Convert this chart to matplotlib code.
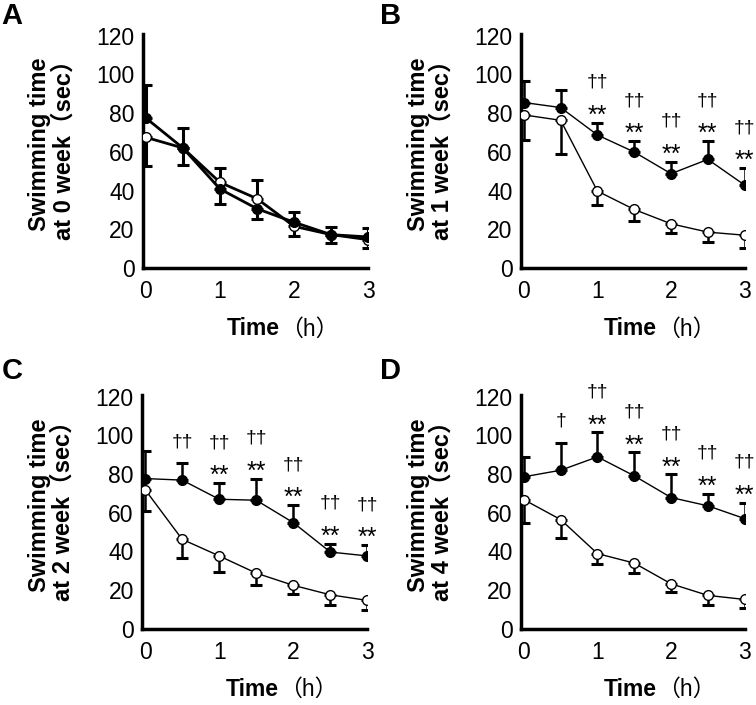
import numpy as np
import matplotlib
matplotlib.use("Agg")
import matplotlib.pyplot as plt

plt.rcParams['font.family'] = ['Liberation Sans', 'Noto Sans CJK JP', 'DejaVu Sans']

# -----------------------------
# DATA
# -----------------------------
time_h = [0, 0.5, 1, 1.5, 2, 2.5, 3]
panel_letters = ["A", "B", "C", "D"]
weeks = ["0", "1", "2", "4"]

# filled circles (mean, upper error)
filled_A = [77.5, 62.0, 40.8, 30.6, 23.6, 17.2, 16.0]
filled_err_A = [17.2, 10.3, 10.8, 14.7, 5.3, 4.1, 4.5]
filled_B = [85.5, 82.9, 68.7, 59.9, 48.7, 56.1, 42.8]
filled_err_B = [10.9, 9.1, 6.4, 5.7, 6.2, 9.5, 8.7]
filled_C = [77.7, 76.9, 67.0, 66.5, 54.9, 39.7, 37.7]
filled_err_C = [14.3, 8.6, 8.5, 11.2, 9.0, 4.3, 5.5]
filled_D = [78.6, 82.0, 88.9, 79.1, 67.9, 63.6, 57.0]
filled_err_D = [10.3, 14.2, 12.7, 12.1, 11.9, 6.3, 8.3]

# open circles (mean, lower error)
open_A = [67.5, 62.0, 44.2, 35.8, 21.5, 17.2, 14.6]
open_err_A = [15.0, 9.0, 11.2, 10.5, 4.8, 4.5, 4.3]
open_B = [79.1, 76.3, 39.7, 30.2, 22.8, 18.5, 16.9]
open_err_B = [13.0, 17.6, 7.2, 6.0, 5.0, 5.0, 6.5]
open_C = [72.0, 46.3, 37.7, 28.8, 22.5, 17.6, 14.7]
open_err_C = [11.2, 9.5, 8.3, 6.0, 4.7, 5.5, 4.7]
open_D = [66.8, 56.5, 38.9, 34.0, 23.3, 17.3, 15.2]
open_err_D = [11.9, 9.3, 5.6, 5.2, 4.0, 5.2, 4.5]

# significance marks above the filled series
daggers_A = ["", "", "", "", "", "", ""]
stars_A = ["", "", "", "", "", "", ""]
daggers_B = ["", "", "††", "††", "††", "††", "††"]
stars_B = ["", "", "**", "**", "**", "**", "**"]
daggers_C = ["", "††", "††", "††", "††", "††", "††"]
stars_C = ["", "", "**", "**", "**", "**", "**"]
daggers_D = ["", "†", "††", "††", "††", "††", "††"]
stars_D = ["", "", "**", "**", "**", "**", "**"]

panels = [
    (filled_A, filled_err_A, open_A, open_err_A, daggers_A, stars_A),
    (filled_B, filled_err_B, open_B, open_err_B, daggers_B, stars_B),
    (filled_C, filled_err_C, open_C, open_err_C, daggers_C, stars_C),
    (filled_D, filled_err_D, open_D, open_err_D, daggers_D, stars_D),
]

# axes positions in figure fraction
positions = [
    [0.189, 0.620, 0.298, 0.332],
    [0.689, 0.620, 0.296, 0.332],
    [0.188, 0.108, 0.298, 0.332],
    [0.689, 0.108, 0.296, 0.332],
]
letter_pos = [(0.002, 0.997), (0.502, 0.997), (0.002, 0.494), (0.502, 0.494)]

fig = plt.figure(figsize=(7.56, 7.05), dpi=100)

for i, (f, fe, o, oe, dag, st) in enumerate(panels):
    ax = fig.add_axes(positions[i])
    lw = 2.0 if i == 0 else 1.0
    elw = 2.2 if i == 0 else 1.8
    zero = np.zeros(len(time_h))

    # error bars: filled up, open down
    ax.errorbar(time_h, f, yerr=[zero, fe], fmt="none", ecolor="black",
                elinewidth=elw, capsize=4, capthick=2.2, zorder=2)
    ax.errorbar(time_h, o, yerr=[oe, zero], fmt="none", ecolor="black",
                elinewidth=elw, capsize=4, capthick=2.2, zorder=2)

    ax.plot(time_h, o, "-o", color="black", lw=lw, markersize=7,
            markerfacecolor="white", markeredgecolor="black",
            markeredgewidth=1.0, zorder=3)
    ax.plot(time_h, f, "-o", color="black", lw=lw, markersize=7,
            markerfacecolor="black", zorder=4)

    # significance marks
    for t, m, e, d, s in zip(time_h, f, fe, dag, st):
        top = m + e
        if s:
            ax.annotate(s, (t, top), xytext=(0, 5), textcoords="offset points",
                        ha="center", va="center", fontsize=18)
            ax.annotate(d, (t, top), xytext=(0, 29), textcoords="offset points",
                        ha="center", va="center", fontsize=14)
        elif d:
            ax.annotate(d, (t, top), xytext=(0, 15.5), textcoords="offset points",
                        ha="center", va="center", fontsize=14)

    ax.set_xlim(-0.04, 3.0)
    ax.set_ylim(0, 121)
    ax.set_xticks([0, 1, 2, 3])
    ax.set_yticks([0, 20, 40, 60, 80, 100, 120])
    ax.tick_params(length=0, labelsize=16.5)
    ax.tick_params(axis="x", pad=9)
    ax.tick_params(axis="y", pad=6)
    for side in ["top", "right"]:
        ax.spines[side].set_visible(False)
    for side in ["left", "bottom"]:
        ax.spines[side].set_linewidth(2.5)

    ax.set_ylabel(f"Swimming time\nat {weeks[i]} week（sec）", fontsize=17,
                  fontweight="bold", linespacing=1.05)
    ax.yaxis.set_label_coords(-0.30, 0.53)

    # x label: bold "Time" followed by regular "（h）"
    ax.text(0.607, -0.288, "Time", transform=ax.transAxes, ha="right",
            va="baseline", fontsize=16.5, fontweight="bold")
    ax.text(0.607, -0.288, "（h）", transform=ax.transAxes, ha="left",
            va="baseline", fontsize=16.5)

    fig.text(letter_pos[i][0], letter_pos[i][1], panel_letters[i],
             fontsize=21, fontweight="bold", ha="left", va="top")

fig.savefig("out.png", dpi=100)
